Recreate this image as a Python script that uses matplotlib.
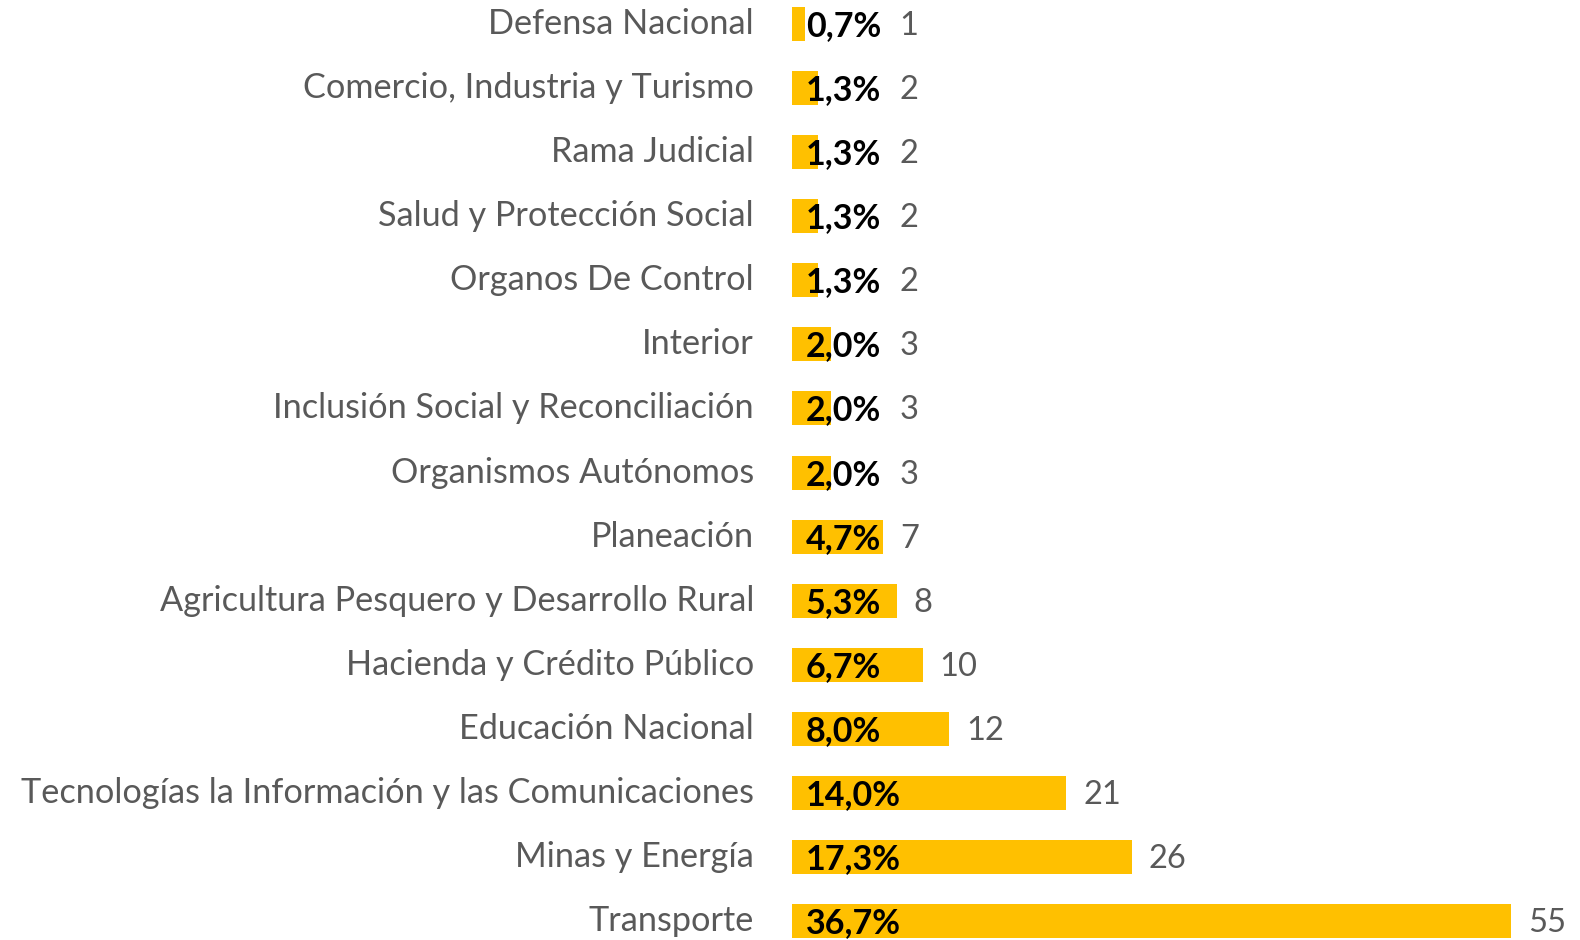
import matplotlib.pyplot as plt
from matplotlib.transforms import offset_copy

plt.rcParams['font.family'] = ['Lato', 'DejaVu Sans']

sectores = [
    "Defensa Nacional",
    "Comercio, Industria y Turismo",
    "Rama Judicial",
    "Salud y Protección Social",
    "Organos De Control",
    "Interior",
    "Inclusión Social y Reconciliación",
    "Organismos Autónomos",
    "Planeación",
    "Agricultura Pesquero y Desarrollo Rural",
    "Hacienda y Crédito Público",
    "Educación Nacional",
    "Tecnologías la Información y las Comunicaciones",
    "Minas y Energía",
    "Transporte",
]
cantidad = [1, 2, 2, 2, 2, 3, 3, 3, 7, 8, 10, 12, 21, 26, 55]
porcentaje = ["0,7%", "1,3%", "1,3%", "1,3%", "1,3%", "2,0%", "2,0%", "2,0%",
              "4,7%", "5,3%", "6,7%", "8,0%", "14,0%", "17,3%", "36,7%"]

GOLD = "#FFC000"
GRAY = "#595959"

fig = plt.figure(figsize=(15.8, 9.4), dpi=100)
ax = fig.add_axes([792 / 1580, 0, 1 - 792 / 1580, 1])

y = list(range(len(sectores)))
ax.barh(y, cantidad, height=0.53, color=GOLD)
ax.set_xlim(0, 60.3)
ax.set_ylim(14.29, -0.37)

for i, (n, p) in enumerate(zip(cantidad, porcentaje)):
    # porcentaje dentro de la barra
    ax.text(0.0, i, p, transform=offset_copy(ax.transData, fig, x=14, y=-2, units="dots"),
            ha="left", va="center", fontsize=24.5, fontweight="bold", color="black")
    # cantidad al final (empujada a la derecha en barras cortas)
    xpos = max(n, 6.9)
    ax.text(xpos, i, str(n), transform=offset_copy(ax.transData, fig, x=17, y=-2, units="dots"),
            ha="left", va="center", fontsize=23.5, color=GRAY)
    ax.text(0.0, i, sectores[i], transform=offset_copy(ax.transData, fig, x=-38, y=0, units="dots"),
            ha="right", va="center", fontsize=24.7, color=GRAY)

ax.axis("off")
fig.savefig("out.png", dpi=100)
